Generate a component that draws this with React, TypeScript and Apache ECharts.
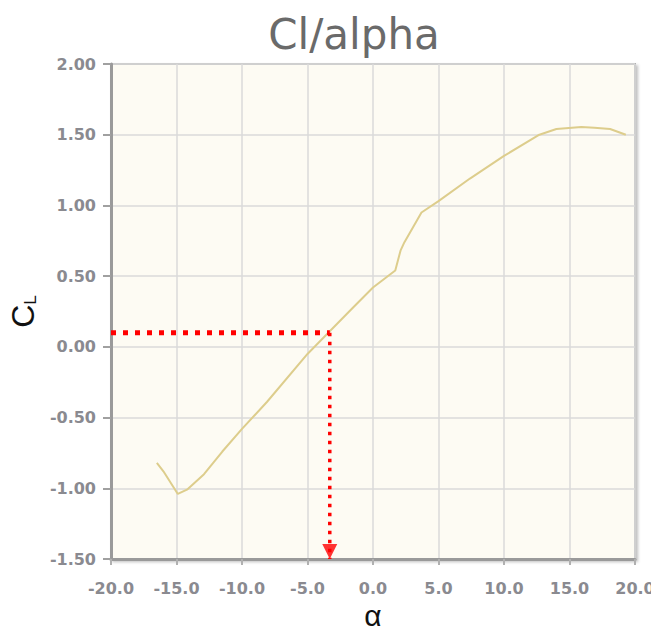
import React, { useEffect, useRef } from "react";
import * as echarts from "echarts";

// Lift coefficient vs angle of attack
const alphaValues = [-16.5, -16.0, -14.9, -14.2, -12.9, -11.5, -10.0, -8.1, -5.0, -3.3, -1.5, 0.0, 1.7, 2.1, 2.4, 3.7, 5.0, 7.4, 10.0, 12.7, 14.0, 15.9, 16.9, 18.1, 19.3];
const clValues = [-0.82, -0.88, -1.04, -1.01, -0.9, -0.74, -0.58, -0.39, -0.05, 0.11, 0.28, 0.42, 0.54, 0.68, 0.74, 0.95, 1.03, 1.19, 1.35, 1.5, 1.54, 1.555, 1.55, 1.54, 1.5];

// Reference marker (red dotted lines + arrow)
const refAlpha = -3.3;
const refCl = 0.1;

// Axis ranges
const xMin = -20;
const xMax = 20;
const xStep = 5;
const yMin = -1.5;
const yMax = 2.0;
const yStep = 0.5;

const titleText = "Cl/alpha";
const xTitle = "α";
const yTitleMain = "C";
const yTitleSub = "L";

export default function App() {
  const ref = useRef<HTMLDivElement>(null);
  useEffect(() => {
    if (!ref.current) return;
    const chart = echarts.init(ref.current, undefined, { renderer: "svg" });
    const curve = alphaValues.map((a, i) => [a, clValues[i]]);
    const labelStyle = {
      color: "#8a8a90",
      fontFamily: "DejaVu Sans",
      fontWeight: "bold" as const,
      fontSize: 16,
    };
    chart.setOption({
      animation: false,
      backgroundColor: "#ffffff",
      grid: {
        left: 111,
        top: 64,
        width: 524,
        height: 495,
        show: true,
        backgroundColor: "#fdfbf3",
        borderColor: "#b0b0b0",
        borderWidth: 2,
        shadowColor: "rgba(0,0,0,0.25)",
        shadowBlur: 3,
        shadowOffsetX: 2,
        shadowOffsetY: 2,
        containLabel: false,
        outerBoundsMode: "none",
      },
      title: {
        text: titleText,
        left: 349,
        top: 8,
        textAlign: "center",
        textStyle: {
          color: "#6a6a6a",
          fontFamily: "DejaVu Sans",
          fontWeight: "normal",
          fontSize: 42,
        },
      },
      xAxis: {
        type: "value",
        min: xMin,
        max: xMax,
        interval: xStep,
        name: xTitle,
        nameLocation: "middle",
        nameGap: 29,
        nameTextStyle: {
          fontFamily: "Liberation Sans",
          fontSize: 30,
          lineHeight: 30,
          color: "#111",
          verticalAlign: "top",
        },
        axisLine: { show: true, onZero: false, lineStyle: { color: "#9a9a9a", width: 3 } },
        axisTick: { show: true, length: 6, lineStyle: { color: "#b0b0b0", width: 2 } },
        axisLabel: { ...labelStyle, margin: 21, formatter: (v: number) => v.toFixed(1) },
        splitLine: { show: true, lineStyle: { color: "#dadada", width: 1.5 } },
      },
      yAxis: {
        type: "value",
        min: yMin,
        max: yMax,
        interval: yStep,
        name: "{c|" + yTitleMain + "}{s|" + yTitleSub + "}",
        nameLocation: "middle",
        nameRotate: 90,
        nameGap: 72,
        nameTextStyle: {
          color: "#111",
          rich: {
            c: {
              fontFamily: "Liberation Sans",
              fontSize: 32,
              lineHeight: 34,
              color: "#111",
              verticalAlign: "bottom",
            },
            s: {
              fontFamily: "Liberation Sans",
              fontSize: 17,
              lineHeight: 18,
              color: "#111",
              verticalAlign: "bottom",
            },
          },
        },
        axisLine: { show: true, onZero: false, lineStyle: { color: "#9a9a9a", width: 3 } },
        axisTick: { show: true, length: 8, lineStyle: { color: "#a0a0a0", width: 2 } },
        axisLabel: { ...labelStyle, margin: 15, formatter: (v: number) => v.toFixed(2) },
        splitLine: { show: true, lineStyle: { color: "#dadada", width: 1.5 } },
      },
      series: [
        {
          type: "line",
          data: curve,
          symbol: "none",
          smooth: false,
          lineStyle: { color: "#ddcd8c", width: 2 },
          z: 3,
        },
        {
          type: "line",
          data: [
            [xMin, refCl],
            [refAlpha, refCl],
          ],
          symbol: "none",
          clip: false,
          lineStyle: { color: "#ff0000", width: 5, type: [5, 7] },
          z: 4,
        },
        {
          type: "line",
          data: [
            [refAlpha, refCl],
            [refAlpha, yMin],
          ],
          symbol: "none",
          clip: false,
          lineStyle: { color: "#ff0000", width: 3.5, type: [3.5, 5.5] },
          z: 4,
        },
        {
          type: "scatter",
          data: [[refAlpha, yMin]],
          symbol: "triangle",
          symbolSize: [15, 15],
          symbolRotate: 180,
          symbolOffset: [0, -7.5],
          clip: false,
          itemStyle: { color: "#ff0000" },
          z: 5,
        },
      ],
    });
    return () => chart.dispose();
  }, []);
  return (
    <div
      ref={ref}
      style={{ position: "fixed", left: 0, top: 0, width: 651, height: 627 }}
    />
  );
}
